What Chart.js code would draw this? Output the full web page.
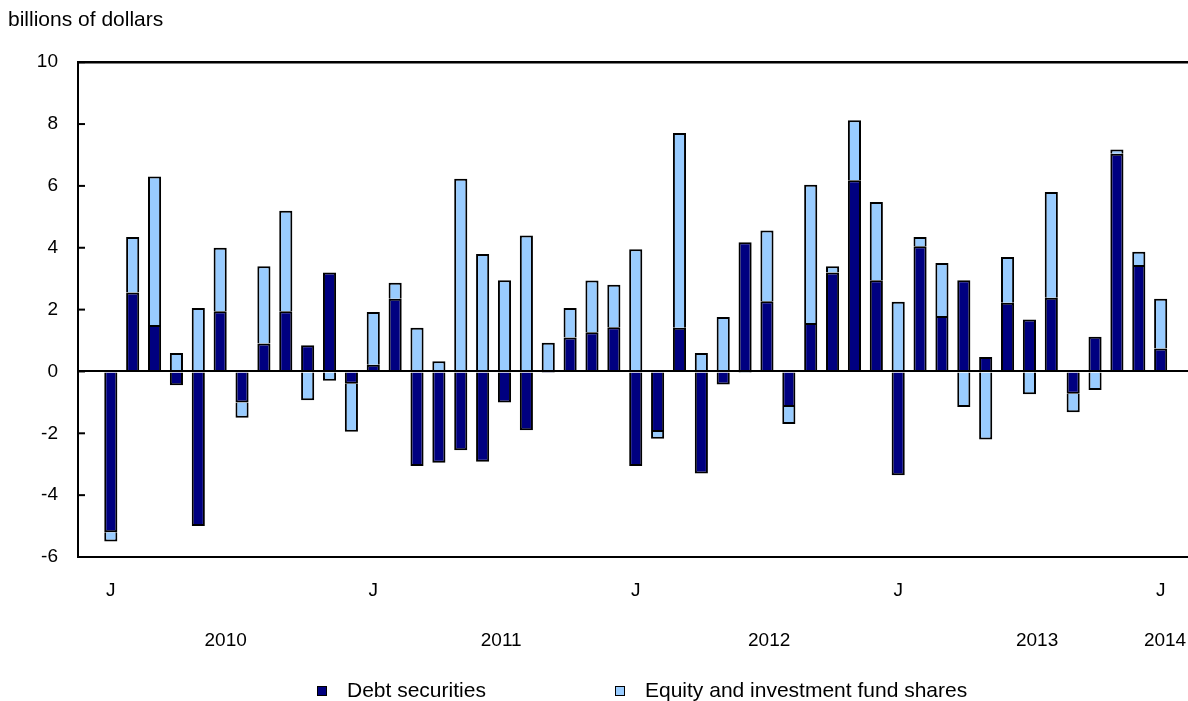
<!DOCTYPE html>
<html lang="en">
<head>
    <meta charset="UTF-8">
    <title>Debt securities and equity, monthly flows</title>
    <style>
        body { margin: 0; background: #fff; font-family: "Liberation Sans", Arial, sans-serif; }
        #wrap { position: relative; width: 1188px; height: 701px; }
        #legend { position: absolute; left: 0; top: 679px; width: 100%; height: 22px; font-size: 21px; color: #000; }
        #legend .item { position: absolute; top: 0; line-height: 22px; white-space: nowrap; }
        #legend .item i { position: absolute; top: 7px; width: 8px; height: 8px; border: 1.5px solid #000; }
        #legend .item span { position: absolute; left: 30px; top: 0; }
    </style>
    <script src="https://cdn.jsdelivr.net/npm/chart.js"></script>
</head>
<body>
<div id="wrap">
    <canvas id="chart"></canvas>
    <div id="legend"></div>
</div>

<script>
    // monthly, Jan 2010 .. Jan 2014 (billions of dollars)
    const months = [
        '2010-01','2010-02','2010-03','2010-04','2010-05','2010-06','2010-07','2010-08','2010-09','2010-10','2010-11','2010-12',
        '2011-01','2011-02','2011-03','2011-04','2011-05','2011-06','2011-07','2011-08','2011-09','2011-10','2011-11','2011-12',
        '2012-01','2012-02','2012-03','2012-04','2012-05','2012-06','2012-07','2012-08','2012-09','2012-10','2012-11','2012-12',
        '2013-01','2013-02','2013-03','2013-04','2013-05','2013-06','2013-07','2013-08','2013-09','2013-10','2013-11','2013-12',
        '2014-01'
    ];
    const debt = [
        -5.2, 2.55, 1.5, -0.45, -5.0, 1.95, -1.0, 0.9, 1.95, 0.85, 3.2, -0.4,
        0.22, 2.35, -3.06, -2.95, -2.55, -2.92, -1.0, -1.9, -0.05, 1.1, 1.27, 1.43,
        -3.06, -1.96, 1.41, -3.3, -0.42, 4.18, 2.27, -1.15, 1.57, 3.2, 6.18, 2.95,
        -3.36, 4.05, 1.79, 2.95, 0.47, 2.22, 1.68, 2.38, -0.72, 1.12, 7.04, 3.44,
        0.74
    ];
    const equity = [
        -0.3, 1.8, 4.8, 0.6, 2.05, 2.05, -0.5, 2.5, 3.25, -0.93, -0.3, -1.55,
        1.7, 0.52, 1.41, 0.33, 6.23, 3.8, 2.95, 4.4, 0.93, 0.95, 1.67, 1.37,
        3.95, -0.22, 6.3, 0.6, 1.76, -0.05, 2.29, -0.55, 4.47, 0.2, 1.94, 2.53,
        2.25, 0.3, 1.72, -1.15, -2.2, 1.48, -0.74, 3.42, -0.6, -0.6, 0.14, 0.43,
        1.61
    ];
    const seriesNames = ['Debt securities', 'Equity and investment fund shares'];
    const seriesColors = ['#000080', '#99ccff'];

    // x tick labels: "J" on each January, year under the middle of each year
    const janIdx = [0, 12, 24, 36, 48];
    const janLabels = ['J', 'J', 'J', 'J', 'J'];
    const yearTickPos = [5.25, 17.85, 30.1, 42.35, 48.2];
    const yearLabels = ['2010', '2011', '2012', '2013', '2014'];

    const FAMILY = '"Liberation Sans", Arial, sans-serif';
    const TICK_FONT = { family: FAMILY, size: 19 };

    // plot frame: top line + short inward tick marks on the y axis
    const framePlugin = {
        id: 'frame',
        afterDraw(chart) {
            const { ctx, chartArea: a } = chart;
            const ys = chart.scales.y;
            ctx.save();
            ctx.strokeStyle = '#000';
            ctx.lineWidth = 2.5;
            ctx.beginPath();
            ctx.moveTo(a.left - 1, a.top);
            ctx.lineTo(a.right, a.top);
            ctx.stroke();
            ctx.lineWidth = 2;
            ys.ticks.forEach(t => {
                const y = ys.getPixelForValue(t.value);
                ctx.beginPath();
                ctx.moveTo(a.left, y);
                ctx.lineTo(a.left + 7, y);
                ctx.stroke();
            });
            ctx.restore();
        }
    };

    // labels near the right edge must not shrink the plot area
    const noSidePadding = h => ax => { ax.height = h; ax.paddingLeft = 0; ax.paddingRight = 0; };

    const ds = [debt, equity].map((vals, k) => ({
        label: seriesNames[k],
        data: vals.map((v, i) => ({ x: i, y: v })),
        backgroundColor: seriesColors[k],
        borderColor: '#000',
        borderWidth: 2,
        borderSkipped: 'start',
        barPercentage: 0.6,
        categoryPercentage: 1
    }));

    new Chart(document.getElementById('chart'), {
        type: 'bar',
        data: { datasets: ds },
        plugins: [framePlugin],
        options: {
            responsive: true,
            maintainAspectRatio: false,
            animation: false,
            layout: { padding: { left: 8, right: 0, top: 0, bottom: 54 } },
            plugins: {
                legend: { display: false },
                tooltip: { enabled: false },
                title: {
                    display: true,
                    text: 'billions of dollars',
                    align: 'start',
                    color: '#000',
                    font: { family: FAMILY, size: 21, weight: 'normal' },
                    padding: { top: 8, bottom: 29 }
                }
            },
            scales: {
                x: {
                    type: 'linear',
                    offset: false,
                    stacked: true,
                    min: -1.5,
                    max: 49.25,
                    grid: { display: false },
                    border: { display: true, color: '#000', width: 2 },
                    afterBuildTicks: ax => { ax.ticks = janIdx.map(v => ({ value: v })); },
                    afterFit: noSidePadding(40),
                    ticks: {
                        autoSkip: false,
                        maxRotation: 0,
                        padding: 14,
                        color: '#000',
                        font: TICK_FONT,
                        callback: (v, i) => janLabels[i]
                    }
                },
                x2: {
                    type: 'linear',
                    offset: false,
                    position: 'bottom',
                    weight: 1,
                    min: -1.5,
                    max: 49.25,
                    grid: { display: false },
                    border: { display: false },
                    afterBuildTicks: ax => { ax.ticks = yearTickPos.map(v => ({ value: v })); },
                    afterFit: noSidePadding(50),
                    ticks: {
                        autoSkip: false,
                        maxRotation: 0,
                        padding: 24,
                        color: '#000',
                        font: TICK_FONT,
                        callback: (v, i) => yearLabels[i]
                    }
                },
                y: {
                    stacked: true,
                    min: -6,
                    max: 10,
                    afterFit: ax => { ax.width = 70; },
                    ticks: { stepSize: 2, padding: 20, color: '#000', font: TICK_FONT },
                    grid: {
                        drawTicks: false,
                        z: 1,
                        lineWidth: 2,
                        color: c => c.tick && c.tick.value === 0 ? '#000' : 'rgba(0,0,0,0)'
                    },
                    border: { display: true, color: '#000', width: 2, z: 1 }
                }
            }
        }
    });

    // legend
    const legend = document.getElementById('legend');
    const legendLeft = [317, 615];
    seriesNames.forEach((name, k) => {
        const it = document.createElement('div');
        it.className = 'item';
        it.style.left = legendLeft[k] + 'px';
        it.innerHTML = '<i style="background:' + seriesColors[k] + '"></i><span>' + name + '</span>';
        legend.appendChild(it);
    });
</script>
</body>
</html>
